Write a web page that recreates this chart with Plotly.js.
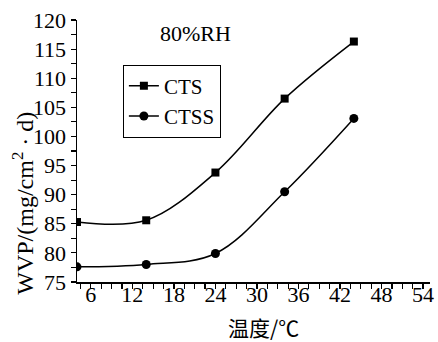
<!DOCTYPE html>
<html>
<head>
<meta charset="utf-8">
<script src="https://cdn.plot.ly/plotly-3.0.1.min.js"></script>
<style>html,body{margin:0;padding:0;background:#fff;}#chart{width:438px;height:342px;}</style>
</head>
<body>
<div id="chart"></div>
<script>
const temperature = [4, 14, 24, 34, 44];
const ctsValues = [85.3, 85.6, 93.8, 106.5, 116.3];
const ctssValues = [77.6, 78.0, 79.9, 90.5, 103.1];
const seriesNames = ['CTS', 'CTSS'];
const xTickVals = [6, 12, 18, 24, 30, 36, 42, 48, 54];
const yTickVals = [75, 80, 85, 90, 95, 100, 105, 110, 115, 120];
const xTitle = '温度/℃';
const yTitle = 'WVP/(mg/cm<sup>2</sup> · d)';
const noteText = '80%RH';

const serif = 'Liberation Serif';
const traces = [
  {x: temperature, y: ctsValues, name: seriesNames[0], mode: 'lines+markers', type: 'scatter',
   line: {color: '#000', width: 1.5, shape: 'spline', smoothing: 1},
   marker: {symbol: 'square', size: 8, color: '#000'}},
  {x: temperature, y: ctssValues, name: seriesNames[1], mode: 'lines+markers', type: 'scatter',
   line: {color: '#000', width: 1.5, shape: 'spline', smoothing: 1},
   marker: {symbol: 'circle', size: 9, color: '#000'}}
];
const layout = {
  width: 438, height: 342,
  margin: {l: 77, r: 8, t: 20, b: 60},
  paper_bgcolor: '#fff', plot_bgcolor: '#fff',
  font: {family: serif, color: '#000', size: 20},
  showlegend: true,
  legend: {x: 0.13, y: 0.83, xanchor: 'left', yanchor: 'top', bordercolor: '#000', borderwidth: 1,
           bgcolor: '#fff', font: {family: serif, size: 21, color: '#000'}, itemwidth: 30, tracegroupgap: 0},
  xaxis: {range: [4, 55], tickvals: xTickVals, ticktext: xTickVals.map(String), showgrid: false, zeroline: false,
          showline: true, linecolor: '#000', linewidth: 1.5, ticks: 'outside', ticklen: 5, tickwidth: 1.2, tickcolor: '#000',
          ticklabelstandoff: -13,
          minor: {dtick: 1.5, tick0: 0, ticks: 'outside', ticklen: 5, tickwidth: 1.2, tickcolor: '#000', showgrid: false},
          tickfont: {family: serif, size: 22, color: '#000'}},
  yaxis: {range: [75, 120], tickvals: yTickVals, ticktext: yTickVals.map(String), showgrid: false, zeroline: false,
          showline: true, linecolor: '#000', linewidth: 1.5, ticks: 'outside', ticklen: 5, tickwidth: 1.2, tickcolor: '#000',
          minor: {dtick: 2.5, tick0: 0, ticks: 'outside', ticklen: 5, tickwidth: 1.2, tickcolor: '#000', showgrid: false},
          tickfont: {family: serif, size: 22, color: '#000'}},
  annotations: [
    {text: noteText, xref: 'paper', yref: 'paper', x: 0.337, y: 0.948, xanchor: 'center', yanchor: 'middle', showarrow: false,
     font: {family: serif, size: 22, color: '#000'}},
    {text: xTitle, xref: 'paper', yref: 'paper', x: 0.527, y: -0.17, xanchor: 'center', yanchor: 'middle', showarrow: false,
     font: {family: 'Noto Sans CJK SC', size: 21, color: '#000'}},
    {text: yTitle, xref: 'paper', yref: 'paper', x: -0.152, y: 0.30, xanchor: 'center', yanchor: 'middle', showarrow: false,
     textangle: -90, font: {family: serif, size: 24, color: '#000'}}
  ]
};
Plotly.newPlot('chart', traces, layout, {displayModeBar: false, staticPlot: true});
</script>
</body>
</html>
